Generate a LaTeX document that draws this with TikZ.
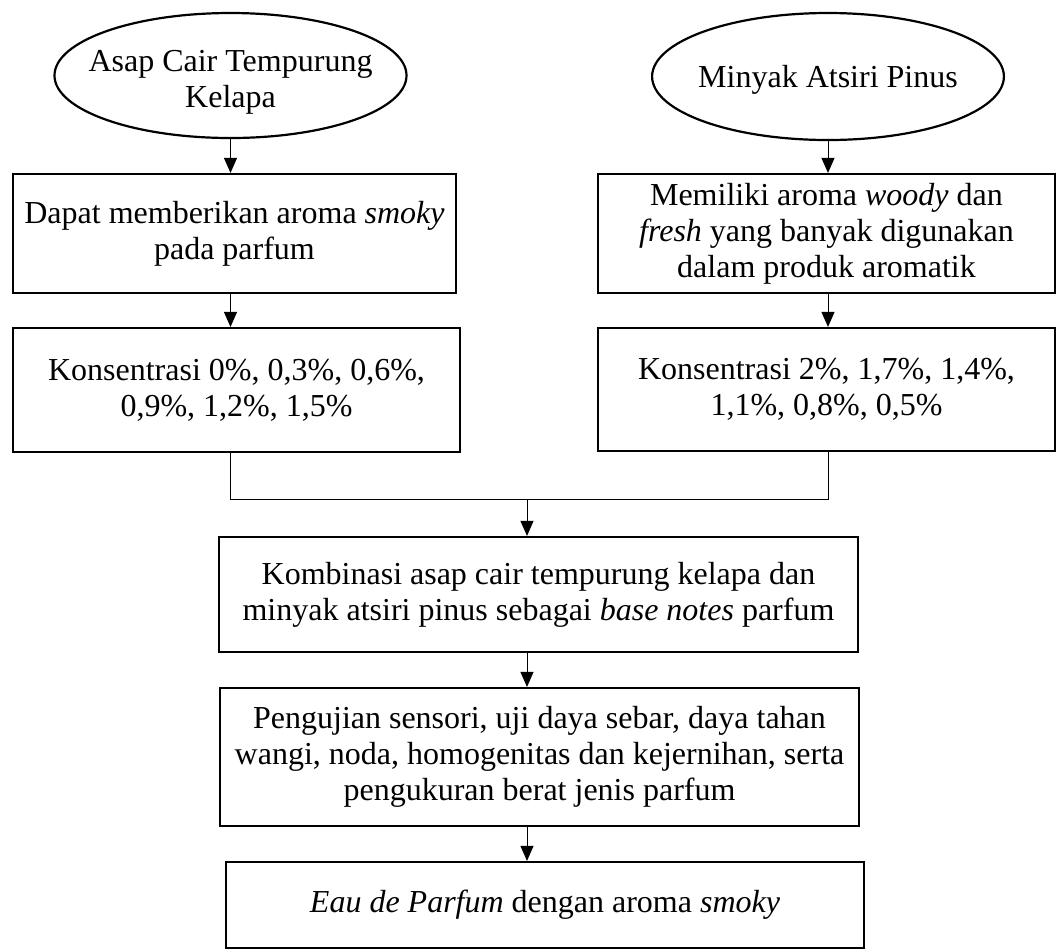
\documentclass[tikz,border=0pt]{standalone}
\usepackage{fontspec}
\setmainfont{Liberation Serif}
\usetikzlibrary{shapes.geometric, arrows.meta, positioning}
\setlength{\tabcolsep}{0pt}
\tikzset{
    x=0.5pt, y=-0.5pt, % One unit is one pixel of the layout, y pointing down
    every node/.style={ % Text of every block
        font=\fontsize{16}{18}\selectfont,
        align=center
    },
    source/.style={ % Raw materials at the top
        draw, ellipse, line width=1.1pt, inner ysep=0pt
    },
    process/.style={ % Steps of the process
        draw, rectangle, line width=1.1pt, inner sep=0pt
    },
    flow/.style={ % Arrows between the steps
        draw, line width=0.5pt,
        -{Triangle[length=7.5pt,width=6.5pt]}
    },
    merger/.style={ % Plain connecting line
        draw, line width=0.5pt
    }
}

\begin{document}
\begin{tikzpicture}
    \useasboundingbox (0,0) rectangle (1056,950);
    \node[source, inner xsep=-8.75pt, minimum height=62.5pt] (asap)      at (230.5,75.5) {\raisebox{-7.6pt}[0pt][0pt]{\begin{tabular}{c}Asap Cair Tempurung\\Kelapa\end{tabular}}};
    \node[source, inner xsep=-2.7pt, minimum height=63.5pt]  (pinus)     at (828,76.5)   {\raisebox{-5.6pt}[0pt][0pt]{Minyak Atsiri Pinus}};
    \node[process, minimum width=221.5pt, minimum height=59.5pt] (smoky)     at (234.5,233.5) {Dapat memberikan aroma \textit{smoky}\\pada parfum};
    \node[process, minimum width=228.5pt, minimum height=59.5pt] (woody)     at (826.5,233.5) {Memiliki aroma \textit{woody} dan\\\textit{fresh} yang banyak digunakan\\dalam produk aromatik};
    \node[process, minimum width=223.5pt, minimum height=62pt]   (konsasap)  at (236.5,390)  {Konsentrasi 0\%, 0,3\%, 0,6\%,\\0,9\%, 1,2\%, 1,5\%};
    \node[process, minimum width=228.5pt, minimum height=61.5pt] (konspinus) at (826.5,389.5) {Konsentrasi 2\%, 1,7\%, 1,4\%,\\1,1\%, 0,8\%, 0,5\%};
    \node[process, minimum width=319.5pt, minimum height=57.5pt] (kombinasi) at (538.5,594.5) {Kombinasi asap cair tempurung kelapa dan\\minyak atsiri pinus sebagai \textit{base notes} parfum};
    \node[process, minimum width=319.5pt, minimum height=69pt]   (uji)       at (539.5,757)  {Pengujian sensori, uji daya sebar, daya tahan\\wangi, noda, homogenitas dan kejernihan, serta\\pengukuran berat jenis parfum};
    \node[process, minimum width=319pt, minimum height=43pt]     (edp)       at (545,905)    {\textit{Eau de Parfum} dengan aroma \textit{smoky}};
    \coordinate (merge) at (527,499);

    % left and right columns
    \draw[flow] (asap.south) -- (asap.south |- smoky.north);
    \draw[flow] (smoky.south -| asap.south) -- (asap.south |- konsasap.north);
    \draw[flow] (pinus.south) -- (pinus.south |- woody.north);
    \draw[flow] (woody.south -| pinus.south) -- (pinus.south |- konspinus.north);
    % both columns meet
    \draw[merger] (konsasap.south -| asap.south) |- (merge) -| (konspinus.south -| pinus.south);
    \draw[flow] (merge) -- (merge |- kombinasi.north);
    \draw[flow] (kombinasi.south -| merge) -- (merge |- uji.north);
    \draw[flow] (uji.south -| merge) -- (merge |- edp.north);
\end{tikzpicture}
\end{document}
